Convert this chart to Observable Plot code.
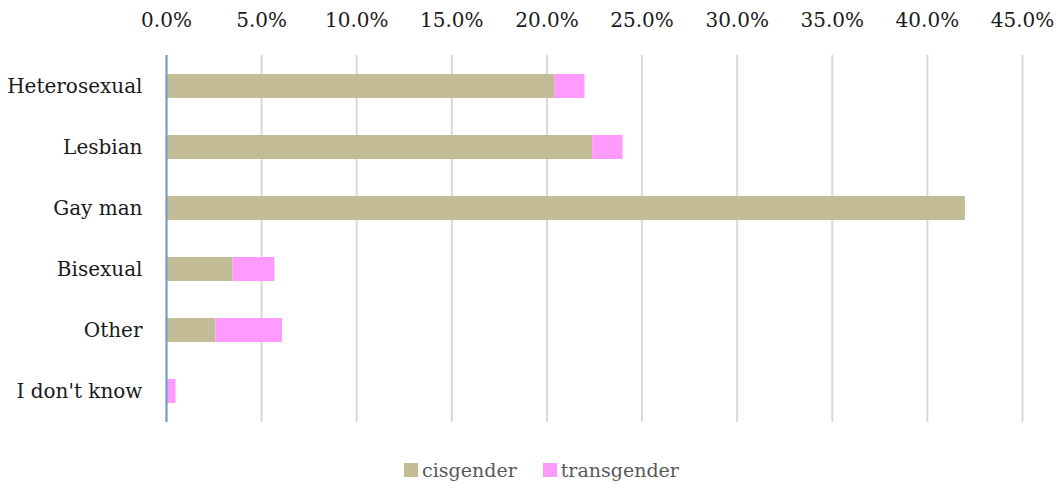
<!DOCTYPE html>
<html>
<head>
<meta charset="utf-8">
<script src="https://cdn.jsdelivr.net/npm/d3@7"></script>
<script src="https://cdn.jsdelivr.net/npm/@observablehq/plot@0.6"></script>
<style>
  html, body { margin: 0; padding: 0; background: #fff; }
  #chart { width: 1061px; }
  .legend { display: flex; justify-content: center; align-items: center; gap: 26px; margin-top: 24px; margin-left: 22px;
            font-family: "DejaVu Serif", serif; font-size: 19px; color: #595959; }
  .legend span.item { display: flex; align-items: center; gap: 4px; }
  .legend span.sw { display: inline-block; width: 14px; height: 14px; }
</style>
</head>
<body>
<div id="chart"></div>
<script>
const categories = ["Heterosexual", "Lesbian", "Gay man", "Bisexual", "Other", "I don't know"];
const seriesNames = ["cisgender", "transgender"];
const cisgender   = [0.204, 0.224, 0.420, 0.035, 0.026, 0.000];
const transgender = [0.016, 0.016, 0.000, 0.022, 0.035, 0.005];
const xTicks = [0, 0.05, 0.10, 0.15, 0.20, 0.25, 0.30, 0.35, 0.40, 0.45];
const colors = ["#C4BC96", "#FF9BFF"];

const rows = [];
categories.forEach((c, i) => {
  rows.push({category: c, series: seriesNames[0], value: cisgender[i]});
  rows.push({category: c, series: seriesNames[1], value: transgender[i]});
});

const font = '"DejaVu Serif", serif';
const plot = Plot.plot({
  width: 1061,
  height: 435,
  marginTop: 55,
  marginLeft: 166,
  marginRight: 39,
  marginBottom: 13,
  style: {fontFamily: font, fontSize: "20px", color: "#1a1a1a", background: "#fff"},
  x: {domain: [0, 0.45], axis: null, label: null},
  y: {domain: categories, paddingInner: 0.6, paddingOuter: 0.3, axis: null, label: null},
  color: {domain: seriesNames, range: colors},
  marks: [
    Plot.gridX(xTicks, {stroke: "#d9d9d9", strokeOpacity: 1, strokeWidth: 2}),
    Plot.barX(rows, Plot.stackX({x: "value", y: "category", fill: "series"})),
    Plot.ruleX([0], {stroke: "#7199d0", strokeWidth: 2}),
    Plot.axisX(xTicks, {anchor: "top", label: null, tickSize: 0, tickPadding: 29, tickFormat: d3.format(".1%"), fontSize: 20, fill: "#1a1a1a"}),
    Plot.axisY({anchor: "left", label: null, tickSize: 0, tickPadding: 24, fontSize: 20, fill: "#1a1a1a"})
  ]
});
document.getElementById("chart").appendChild(plot);

const legend = document.createElement("div");
legend.className = "legend";
seriesNames.forEach((s, i) => {
  const item = document.createElement("span");
  item.className = "item";
  const sw = document.createElement("span");
  sw.className = "sw";
  sw.style.background = colors[i];
  const t = document.createElement("span");
  t.textContent = s;
  item.appendChild(sw);
  item.appendChild(t);
  legend.appendChild(item);
});
document.getElementById("chart").appendChild(legend);
</script>
</body>
</html>
